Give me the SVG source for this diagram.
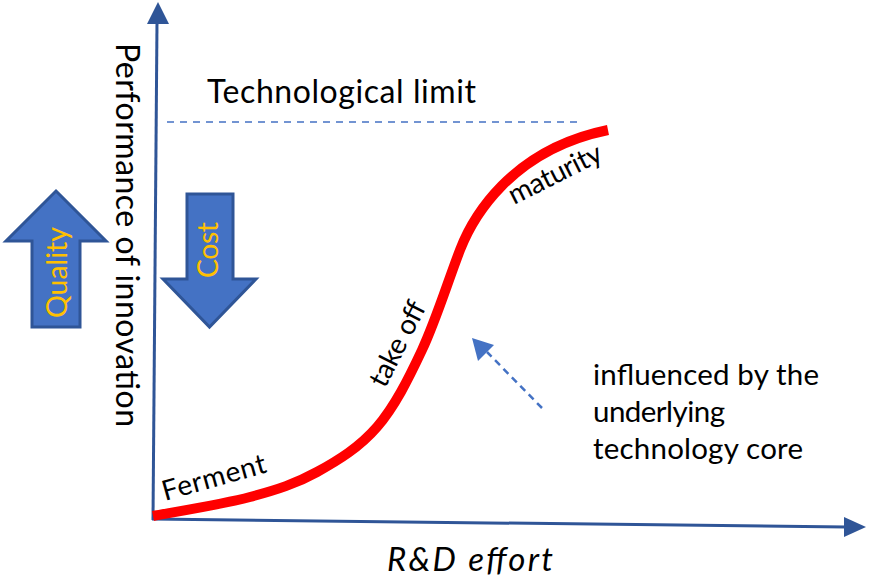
<svg xmlns="http://www.w3.org/2000/svg" width="871" height="581" viewBox="0 0 871 581">
<style>
text{font-family:Lato,"Liberation Sans",sans-serif;fill:#000}
.axis{stroke:#2F5597;stroke-width:3;fill:none}
.axhead{fill:#2F5597}
.dash{stroke:#4472C4;fill:none}
.blk{fill:#4472C4;stroke:#2F5597;stroke-width:3;stroke-linejoin:miter}
.gold{fill:#FFC000;font-size:28.5px}
.lbl{font-size:28px}
.note{font-size:29.5px}
</style>
<rect width="871" height="581" fill="#fff"/>
<g id="connectors">
<line class="axis" x1="153" y1="520" x2="157" y2="22"/>
<polygon class="axhead" points="158,2 169,24 147,24"/>
<line class="axis" x1="152" y1="519" x2="846" y2="527"/>
<polygon class="axhead" points="866,527 844,517 844,537"/>
<line class="dash" x1="167" y1="122" x2="580" y2="122" stroke-width="1.6" stroke-dasharray="7 6"/>
<line class="dash" x1="542" y1="408" x2="487" y2="352" stroke-width="2.5" stroke-dasharray="7 5"/>
<polygon fill="#4472C4" points="472,338 494,345 478,361"/>
</g>
<g id="curve">
<path d="M153,516 C169.2,512.8 222.7,504.3 250,497 C277.3,489.7 295.8,483.7 317,472 C338.2,460.3 359.5,447.3 377,427 C394.5,406.7 408.2,379.5 422,350 C435.8,320.5 447.5,282.5 460,250 C472,219 510,150 608,130" fill="none" stroke="#FF0000" stroke-width="10" stroke-linecap="butt"/>
</g>
<g id="title"><text x="207" y="103" font-size="32" textLength="269">Technological limit</text></g>
<g id="ylabel"><text transform="translate(116,43) rotate(90)" font-size="32" textLength="384">Performance of innovation</text></g>
<g id="xlabel"><text x="387" y="571" font-size="33" font-style="italic" textLength="166">R&amp;D effort</text></g>
<g id="quality">
<polygon class="blk" points="56,191 106,241 80,241 80,327 32,327 32,241 6,241"/>
<text class="gold" transform="translate(67,318) rotate(-90)" textLength="91">Quality</text>
</g>
<g id="cost">
<polygon class="blk" points="187,194 233,194 233,279 256,279 209.5,327 163,279 187,279"/>
<text class="gold" transform="translate(218,278) rotate(-90)" textLength="56">Cost</text>
</g>
<g id="ferment"><text class="lbl" transform="translate(165,501) rotate(-15.7)" textLength="107">Ferment</text></g>
<g id="takeoff"><text class="lbl" transform="translate(385,389) rotate(-63)" textLength="92">take off</text></g>
<g id="maturity"><text class="lbl" transform="translate(514,205) rotate(-26.6)" textLength="101">maturity</text></g>
<g id="note">
<text class="note" x="593" y="385" textLength="226">influenced by the</text>
<text class="note" x="593" y="422" textLength="132">underlying</text>
<text class="note" x="593" y="459" textLength="210">technology core</text>
</g>
</svg>
